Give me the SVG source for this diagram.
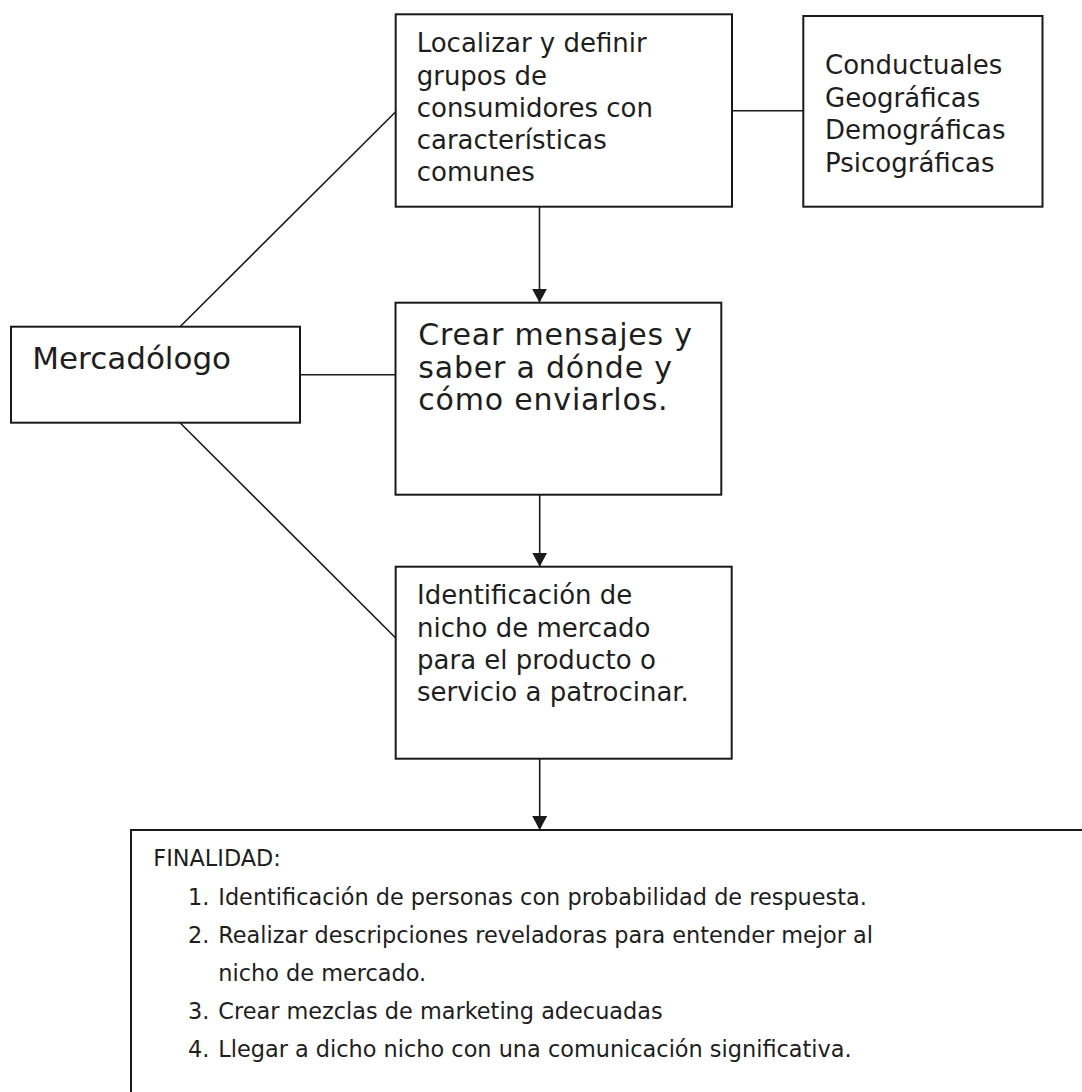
<svg xmlns="http://www.w3.org/2000/svg" width="1082" height="1092" viewBox="0 0 1082 1092">
  <style>
    .box { fill: #ffffff; stroke: #1a1a1a; stroke-width: 2; }
    .link { fill: none; stroke: #1a1a1a; stroke-width: 1.6; }
    .arrow { fill: none; stroke: #1a1a1a; stroke-width: 1.6; marker-end: url(#head); }
    text { font-family: "DejaVu Sans", Verdana, sans-serif; fill: #1e1e1e; }
    .t26 { font-size: 26px; }
    .t30 { font-size: 30px; letter-spacing: 0.8px; }
    .t31 { font-size: 31px; }
    .t22 { font-size: 22.4px; }
  </style>
  <defs>
    <marker id="head" viewBox="0 0 14 15" refX="14" refY="7.5" markerWidth="14" markerHeight="15" markerUnits="userSpaceOnUse" orient="auto">
      <path d="M0,0 L14,7.5 L0,15 Z" fill="#1a1a1a"/>
    </marker>
  </defs>

  <rect width="1082" height="1092" fill="#ffffff"/>

  <!-- connectors -->
  <g id="connectors">
    <line class="link" x1="732" y1="110.7" x2="803.3" y2="110.7"/>
    <line class="link" x1="300" y1="374.7" x2="395.5" y2="374.7"/>
    <line class="link" x1="180" y1="326.7" x2="395.7" y2="111.7"/>
    <line class="link" x1="180" y1="422.7" x2="395.7" y2="638"/>
    <line class="arrow" x1="539.5" y1="206.7" x2="539.5" y2="302.7"/>
    <line class="arrow" x1="539.7" y1="494.7" x2="539.7" y2="566.7"/>
    <line class="arrow" x1="539.7" y1="758.7" x2="539.7" y2="830"/>
  </g>

  <!-- segment definition -->
  <g id="node-localizar">
    <rect class="box" x="395.7" y="14.3" width="336.3" height="192.4"/>
    <text class="t26">
      <tspan x="416.7" y="52.3">Localizar y definir</tspan>
      <tspan x="416.7" y="84.5">grupos de</tspan>
      <tspan x="416.7" y="116.6">consumidores con</tspan>
      <tspan x="416.7" y="148.6">características</tspan>
      <tspan x="416.7" y="180.7">comunes</tspan>
    </text>
  </g>

  <!-- segmentation variables -->
  <g id="node-variables">
    <rect class="box" x="803.3" y="16" width="239.2" height="190.7"/>
    <text class="t26">
      <tspan x="825" y="74">Conductuales</tspan>
      <tspan x="825" y="106.5">Geográficas</tspan>
      <tspan x="825" y="139">Demográficas</tspan>
      <tspan x="825" y="171.5">Psicográficas</tspan>
    </text>
  </g>

  <!-- marketer -->
  <g id="node-mercadologo">
    <rect class="box" x="11" y="326.7" width="289" height="96"/>
    <text class="t31" x="32.3" y="369.3">Mercadólogo</text>
  </g>

  <!-- messages -->
  <g id="node-mensajes">
    <rect class="box" x="395.5" y="302.7" width="325.8" height="192"/>
    <text class="t30">
      <tspan x="418.3" y="345">Crear mensajes y</tspan>
      <tspan x="418.3" y="377.5">saber a dónde y</tspan>
      <tspan x="418.3" y="410">cómo enviarlos.</tspan>
    </text>
  </g>

  <!-- niche -->
  <g id="node-nicho">
    <rect class="box" x="395.7" y="566.7" width="336" height="192"/>
    <text class="t26">
      <tspan x="417" y="604">Identificación de</tspan>
      <tspan x="417" y="636.5">nicho de mercado</tspan>
      <tspan x="417" y="669">para el producto o</tspan>
      <tspan x="417" y="701">servicio a patrocinar.</tspan>
    </text>
  </g>

  <!-- purpose -->
  <g id="node-finalidad">
    <rect class="box" x="131" y="830" width="980" height="300"/>
    <text class="t22">
      <tspan x="153.3" y="866">FINALIDAD:</tspan>
      <tspan x="188" y="904.5">1.</tspan>
      <tspan x="218.3" y="904.5">Identificación de personas con probabilidad de respuesta.</tspan>
      <tspan x="188" y="943">2.</tspan>
      <tspan x="218.3" y="943">Realizar descripciones reveladoras para entender mejor al</tspan>
      <tspan x="218.3" y="980.5">nicho de mercado.</tspan>
      <tspan x="188" y="1019">3.</tspan>
      <tspan x="218.3" y="1019">Crear mezclas de marketing adecuadas</tspan>
      <tspan x="188" y="1057">4.</tspan>
      <tspan x="218.3" y="1057">Llegar a dicho nicho con una comunicación significativa.</tspan>
    </text>
  </g>
</svg>
